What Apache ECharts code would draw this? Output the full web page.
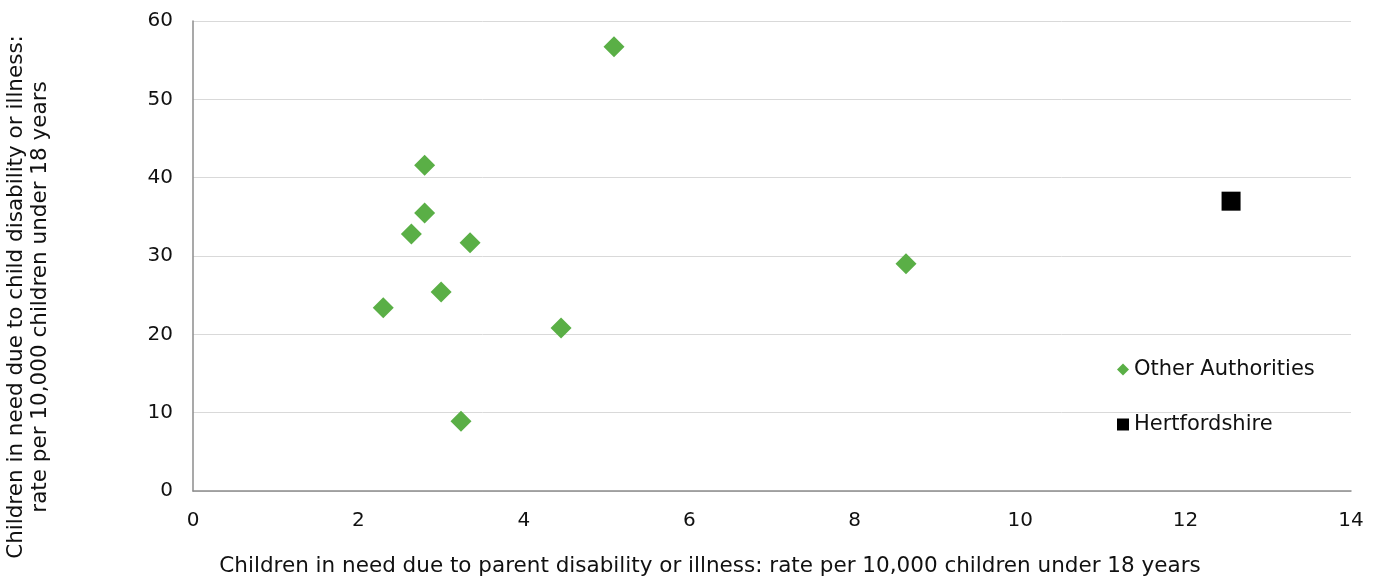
<!DOCTYPE html>
<html><head><meta charset="utf-8">
<script src="https://cdn.jsdelivr.net/npm/echarts@6/dist/echarts.min.js"></script>
<style>html,body{margin:0;padding:0;background:#fff}#c{width:1379px;height:580px}</style>
</head><body><div id="c"></div>
<script>
const otherX = [5.09, 2.80, 2.80, 2.64, 3.35, 3.00, 2.30, 4.45, 3.24, 8.62];
const otherY = [56.7, 41.6, 35.5, 32.8, 31.7, 25.4, 23.4, 20.8, 8.9, 29.0];
const hertsX = [12.55];
const hertsY = [37.0];
const seriesNames = ['Other Authorities', 'Hertfordshire'];
const xTitle = 'Children in need due to parent disability or illness: rate per 10,000 children under 18 years';
const yTitle = 'Children in need due to child disability or illness:\nrate per 10,000 children under 18 years';

const font = 'DejaVu Sans, Verdana, sans-serif';
const txt = '#111';
const chart = echarts.init(document.getElementById('c'));
chart.setOption({
  animation: false,
  textStyle: {fontFamily: font},
  grid: {left: 193, right: 28, top: 21, bottom: 89, containLabel: false, outerBoundsMode: 'none'},
  legend: {
    orient: 'vertical', left: 1112, top: 354, itemGap: 34,
    itemWidth: 12, itemHeight: 12,
    textStyle: {fontFamily: font, fontSize: 21, color: txt},
    data: [{name: seriesNames[0], icon: 'diamond'}, {name: seriesNames[1], icon: 'rect'}]
  },
  xAxis: {
    type: 'value', min: 0, max: 14, interval: 2,
    name: xTitle, nameLocation: 'middle', nameGap: 64,
    nameTextStyle: {fontFamily: font, fontSize: 21.5, color: txt, padding: [0, 124, 0, 0]},
    axisLine: {show: true, lineStyle: {color: '#8c8c8c', width: 1.5}},
    axisTick: {show: false},
    axisLabel: {fontFamily: font, fontSize: 20, color: txt, margin: 20},
    splitLine: {show: false}
  },
  yAxis: {
    type: 'value', min: 0, max: 60, interval: 10,
    name: yTitle, nameLocation: 'middle', nameGap: 141,
    nameTextStyle: {fontFamily: font, fontSize: 21.5, color: txt, lineHeight: 24, padding: [0, 82, 0, 0]},
    axisLine: {show: true, lineStyle: {color: '#8c8c8c', width: 1.5}},
    axisTick: {show: false},
    axisLabel: {fontFamily: font, fontSize: 20, color: txt, margin: 20},
    splitLine: {show: true, lineStyle: {color: '#d9d9d9'}}
  },
  series: [
    {name: seriesNames[0], type: 'scatter', symbol: 'diamond', symbolSize: 21,
     itemStyle: {color: '#5aaf46', opacity: 1}, data: otherX.map((x, i) => [x, otherY[i]])},
    {name: seriesNames[1], type: 'scatter', symbol: 'rect', symbolSize: 19,
     itemStyle: {color: '#000', opacity: 1}, data: hertsX.map((x, i) => [x, hertsY[i]])}
  ]
});
</script></body></html>
